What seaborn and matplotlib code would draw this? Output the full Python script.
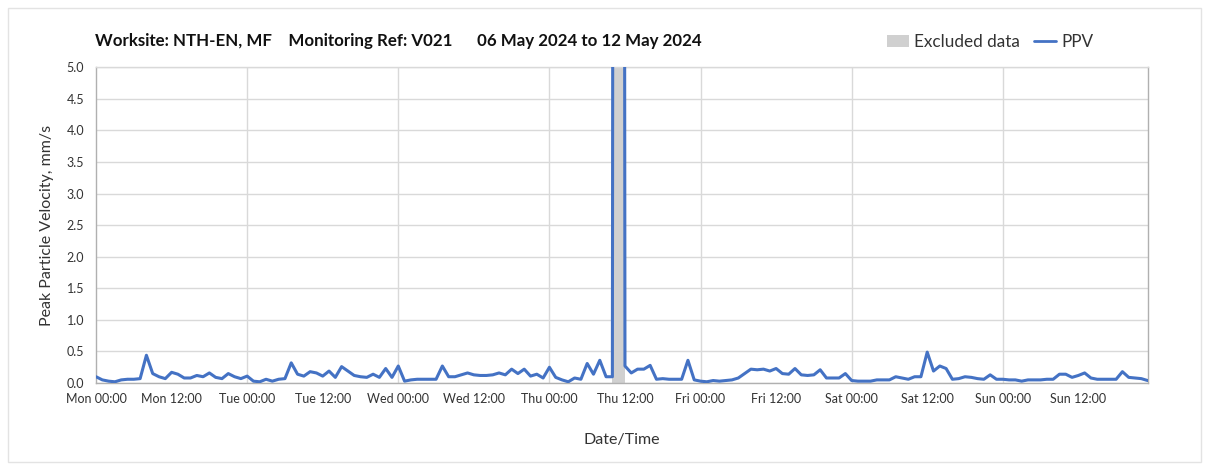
import pandas as pd
import numpy as np
import matplotlib.pyplot as plt
import matplotlib.dates as mdates
from matplotlib.patches import Patch, Rectangle
from matplotlib.lines import Line2D
import seaborn as sns

sns.set_style("white")
plt.rcParams['font.family'] = ['Lato', 'DejaVu Sans']

# Дані: погодинні значення PPV, 06.05.2024 00:00 - 12.05.2024 23:00
start = "2024-05-06 00:00"
ppv = [
    0.10, 0.05, 0.03, 0.02, 0.05, 0.06, 0.06, 0.07, 0.44, 0.15, 0.10, 0.07,
    0.17, 0.14, 0.08, 0.08, 0.12, 0.10, 0.16, 0.09, 0.07, 0.15, 0.10, 0.07,
    0.11, 0.03, 0.02, 0.06, 0.03, 0.06, 0.07, 0.32, 0.14, 0.11, 0.18, 0.16,
    0.11, 0.19, 0.09, 0.26, 0.19, 0.12, 0.10, 0.09, 0.14, 0.09, 0.23, 0.09,
    0.27, 0.03, 0.05, 0.06, 0.06, 0.06, 0.06, 0.27, 0.10, 0.10, 0.13, 0.16,
    0.13, 0.12, 0.12, 0.13, 0.16, 0.13, 0.22, 0.15, 0.22, 0.11, 0.14, 0.08,
    0.25, 0.09, 0.05, 0.02, 0.08, 0.06, 0.31, 0.14, 0.36, 0.10, 0.10, 99.0,
    0.27, 0.16, 0.22, 0.22, 0.28, 0.06, 0.07, 0.06, 0.06, 0.06, 0.36, 0.05,
    0.03, 0.02, 0.04, 0.03, 0.04, 0.05, 0.08, 0.15, 0.22, 0.21, 0.22, 0.19,
    0.23, 0.15, 0.14, 0.23, 0.13, 0.12, 0.13, 0.21, 0.08, 0.08, 0.08, 0.15,
    0.04, 0.03, 0.03, 0.03, 0.05, 0.05, 0.05, 0.10, 0.08, 0.06, 0.10, 0.10,
    0.49, 0.19, 0.27, 0.23, 0.06, 0.07, 0.10, 0.09, 0.07, 0.06, 0.13, 0.06,
    0.06, 0.05, 0.05, 0.03, 0.05, 0.05, 0.05, 0.06, 0.06, 0.14, 0.14, 0.09,
    0.12, 0.16, 0.08, 0.06, 0.06, 0.06, 0.06, 0.18, 0.09, 0.08, 0.07, 0.04,
]
excluded_from = "2024-05-09 10:00"
excluded_to = "2024-05-09 12:00"

title = "Worksite: NTH-EN, MF    Monitoring Ref: V021      06 May 2024 to 12 May 2024"
y_label = "Peak Particle Velocity, mm/s"
x_label = "Date/Time"

df = pd.DataFrame({"time": pd.date_range(start, periods=len(ppv), freq="h"), "ppv": ppv})

blue = "#4472C4"
grid_c = "#d9d9d9"
text_c = "#333333"

fig = plt.figure(figsize=(12.08, 4.7), dpi=100)
ax = fig.add_axes([0.0795, 0.185, 0.8705, 0.672])

# Виключений період
ax.axvspan(pd.Timestamp(excluded_from), pd.Timestamp(excluded_to), color="#d0d0d0", lw=0, zorder=1)

sns.lineplot(data=df, x="time", y="ppv", ax=ax, color=blue, linewidth=2.2, zorder=3)

ax.set_ylim(0, 5.0)
ax.set_xlim(df["time"].iloc[0], df["time"].iloc[-1])
ax.set_yticks(np.arange(0, 5.01, 0.5))
ax.yaxis.set_major_formatter(plt.FuncFormatter(lambda v, p: f"{v:.1f}"))

ax.xaxis.set_major_locator(mdates.HourLocator(byhour=[0, 12]))
ax.xaxis.set_major_formatter(mdates.DateFormatter("%a %H:%M"))

# Сітка: горизонтальна на кожні 0.5, вертикальна лише о 00:00
ax.grid(axis="y", color=grid_c, lw=1.0, zorder=0)
for d in pd.date_range("2024-05-07", periods=6, freq="D"):
    ax.axvline(d, color=grid_c, lw=1.0, zorder=0)

for s in ["left", "bottom", "right", "top"]:
    ax.spines[s].set_color("#b0b0b0")
    ax.spines[s].set_linewidth(1.0)
ax.spines["top"].set_color(grid_c)

ax.tick_params(axis="both", labelsize=9, colors="#a0a0a0", labelcolor=text_c,
               direction="out", length=4, width=1)
ax.tick_params(axis="y", length=5)

ax.set_xlabel(x_label, fontsize=11.5, color=text_c, labelpad=20)
ax.set_ylabel(y_label, fontsize=11.5, color=text_c, labelpad=9)

fig.text(0.079, 0.913, title, fontsize=12.2, fontweight="bold", color="#111111", ha="left", va="center")

handles = [Patch(facecolor="#d0d0d0", edgecolor="none"),
           Line2D([0], [0], color=blue, lw=2)]
fig.legend(handles, ["Excluded data", "PPV"], loc="center right", bbox_to_anchor=(0.905, 0.91),
           ncol=2, frameon=False, fontsize=12.3, handlelength=1.3, handleheight=0.7,
           columnspacing=0.8, handletextpad=0.3, labelcolor=text_c,
           borderpad=0, borderaxespad=0)

# Рамка навколо всього графіка
fig.patches.append(Rectangle((0.007, 0.017), 0.987, 0.966, transform=fig.transFigure,
                             fill=False, edgecolor="#e3e3e3", lw=1))

fig.savefig("out.png", dpi=100)
